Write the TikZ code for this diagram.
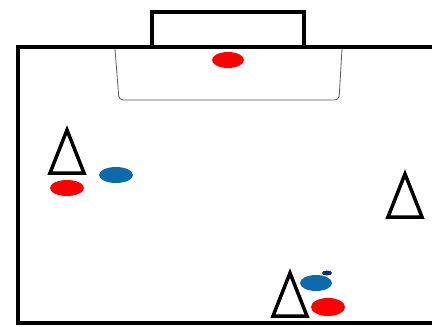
\documentclass[tikz,border=0pt]{standalone}
\begin{document}
\begin{tikzpicture}[x=1pt, y=-1pt]
    \definecolor{my-red}{rgb}{1.00,0.00,0.00}
    \definecolor{my-blue}{rgb}{0.05,0.42,0.67}
    \definecolor{my-navy}{rgb}{0.05,0.18,0.45}
    \def\cone#1#2{\draw[line width=3.5pt, line join=miter] (#1-17,#2) -- (#1,#2-43) -- (#1+17,#2) -- cycle;}
    \useasboundingbox (0,0) rectangle (432,327);
    % pitch and goal
    \draw[line width=4pt] (434,47) -- (18,47) -- (18,323) -- (434,323);
    \draw[line width=4pt] (152,47) -- (152,12) -- (304,12) -- (304,47);
    \draw[gray!70!black, line width=0.8pt, rounded corners=4pt] (115,49) -- (119,100) -- (339,100) -- (342,49);
    % players
    \fill[my-red]  (228,60) ellipse (16 and 8);
    \fill[my-red]  (67,188) ellipse (17 and 8);
    \fill[my-blue] (116,175) ellipse (17 and 8);
    \fill[my-blue] (316,283) ellipse (16 and 8);
    \fill[my-navy] (327,273) ellipse (5 and 2.5);
    \fill[my-red]  (328,307) ellipse (17 and 9);
    % cones
    \cone{67}{173}
    \cone{405}{217}
    \cone{290}{316}
\end{tikzpicture}
\end{document}
